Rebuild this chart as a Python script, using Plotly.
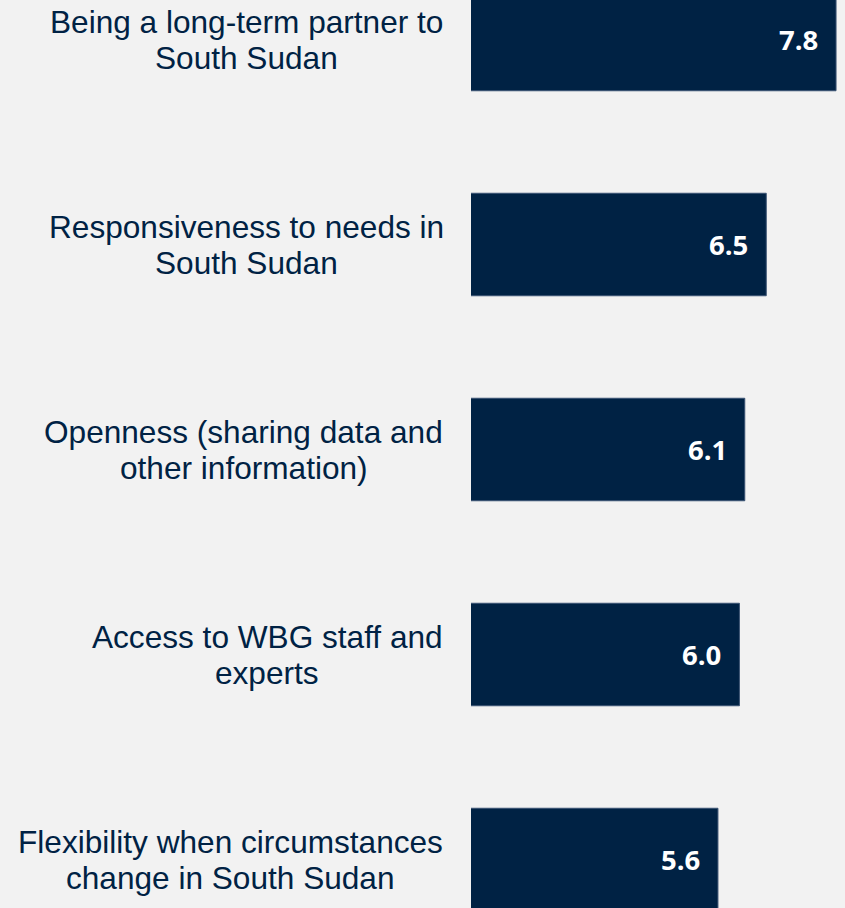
import plotly.graph_objects as go

categories = [
    "Being a long-term partner to<br>South Sudan",
    "Responsiveness to needs in<br>South Sudan",
    "Openness (sharing data and<br>other information)",
    "Access to WBG staff and<br>experts",
    "Flexibility when circumstances<br>change in South Sudan",
]
values = [7.8, 6.5, 6.1, 6.0, 5.6]
value_labels = ["7.8", "6.5", "6.1", "6.0", "5.6"]

NAVY = "#002244"
BG = "#f2f2f2"
LABEL_SIZE = 31.6
LINE_GAP = 36

# Arial / Liberation Sans advance widths (per 1000 em), used to centre the
# two label lines on each other with a tighter line spacing.
ARIAL_W = {
    "B": 667, "R": 667, "S": 667, "O": 778, "A": 667, "W": 944, "G": 778, "F": 611,
    "a": 556, "b": 556, "c": 500, "d": 556, "e": 556, "f": 278, "g": 556, "h": 556,
    "i": 222, "j": 222, "k": 500, "l": 222, "m": 833, "n": 556, "o": 556, "p": 556,
    "r": 333, "s": 500, "t": 278, "u": 556, "v": 500, "w": 722, "x": 500, "y": 500,
    " ": 278, "-": 333, "(": 333, ")": 333,
}


def text_width(s, size):
    return sum(ARIAL_W.get(ch, 556) for ch in s) / 1000.0 * size


idx = list(range(len(categories)))

fig = go.Figure()
fig.add_trace(go.Bar(
    x=values,
    y=idx,
    base=0,
    orientation="h",
    width=0.5,
    marker=dict(color=NAVY, line=dict(color="#3a5373", width=1)),
    hoverinfo="skip",
))

annotations = []
for i, (cat, v, lab) in enumerate(zip(categories, values, value_labels)):
    lines = cat.split("<br>")
    wmax = max(text_width(l, LABEL_SIZE) for l in lines)
    n = len(lines)
    for j, line in enumerate(lines):
        offset = (j - (n - 1) / 2) * LINE_GAP
        annotations.append(dict(
            x=0, xref="paper", xanchor="center", xshift=-28 - wmax / 2,
            y=i, yref="y", yanchor="middle", yshift=-offset,
            text=line, showarrow=False, align="center",
            font=dict(family="Liberation Sans, Arial, sans-serif", size=LABEL_SIZE, color=NAVY),
        ))
    annotations.append(dict(
        x=v, xref="x", xanchor="right", xshift=-16,
        y=i, yref="y", yanchor="middle", yshift=0,
        text="<b>" + lab + "</b>", showarrow=False,
        font=dict(family="Open Sans, sans-serif", size=27.5, color="white"),
    ))

fig.update_layout(
    width=845, height=908,
    margin=dict(l=471, r=0, t=0, b=0),
    paper_bgcolor=BG, plot_bgcolor=BG,
    showlegend=False,
    bargap=0.5,
    annotations=annotations,
    xaxis=dict(range=[1, 7.967], visible=False, showgrid=False, zeroline=False),
    yaxis=dict(range=[4.2366, -0.1927], visible=False, showgrid=False, zeroline=False),
)

fig.write_html(
    "out.html",
    config={"displayModeBar": False},
    post_script="document.body.style.margin='0';document.body.style.overflow='hidden';",
)
